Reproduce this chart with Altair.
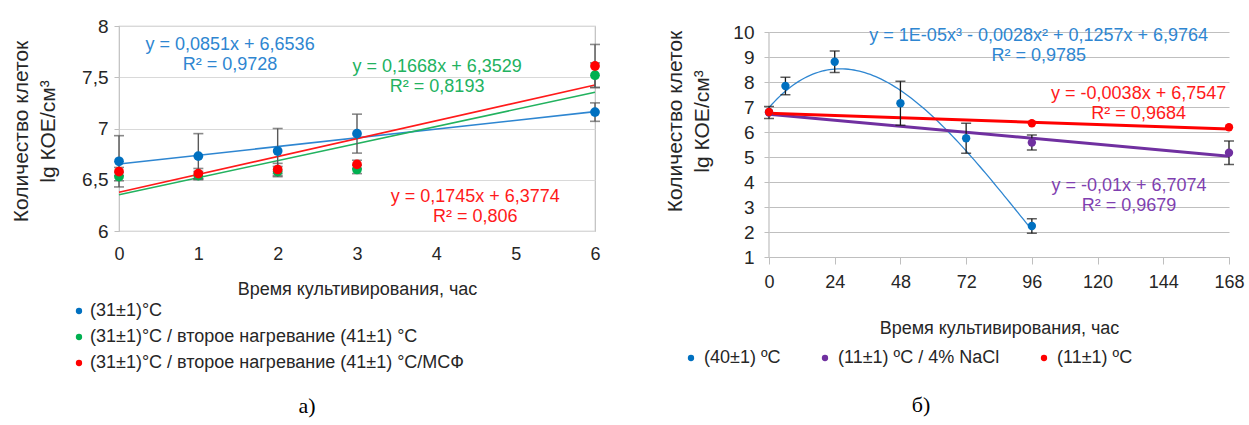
import altair as alt
import numpy as np
import pandas as pd

FONT = "Liberation Sans"
GRID = "#D9D9D9"
AXIS = "#BFBFBF"
TEXT = "#262626"

# ---------- panel а): growth over 6 h ----------
hours_a = [0, 1, 2, 3, 6]
series_a = [
    "(31±1)°C",
    "(31±1)°C / второе нагревание (41±1) °C",
    "(31±1)°C / второе нагревание (41±1) °C/МСФ",
]
dot_colors_a = ["#0070C0", "#00B050", "#FF0000"]
text_colors_a = ["#2E86D1", "#22B25F", "#FF1A1A"]
values_a = [
    [6.68, 6.73, 6.78, 6.95, 7.16],
    [6.53, 6.54, 6.58, 6.60, 7.52],
    [6.58, 6.56, 6.60, 6.65, 7.61],
]
errors_a = [
    [0.25, 0.22, 0.22, 0.19, 0.09],
    [0.04, 0.04, 0.05, 0.04, 0.12],
    [0.04, 0.05, 0.06, 0.04, 0.21],
]
slope_a = [0.0851, 0.1668, 0.1745]
icpt_a = [6.6536, 6.3529, 6.3774]
r2_a = [0.9728, 0.8193, 0.806]
label_x_a = [1.40, 4.01, 4.49]
label_y_a = [7.815, 7.60, 6.33]

# ---------- panel б): survival over 168 h ----------
series_b = ["(40±1) ºC", "(11±1) ºC / 4% NaCl", "(11±1) ºC"]
dot_colors_b = ["#0070C0", "#7030A0", "#FF0000"]
text_colors_b = ["#2E86D1", "#7F3FB0", "#FF1A1A"]
hours_b = [
    [0, 6, 24, 48, 72, 96],
    [0, 96, 168],
    [0, 96, 168],
]
values_b = [
    [6.80, 7.84, 8.81, 7.15, 5.75, 2.24],
    [6.78, 5.58, 5.17],
    [6.80, 6.35, 6.19],
]
errors_b = [
    [0, 0.35, 0.43, 0.88, 0.60, 0.29],
    [0.24, 0.30, 0.47],
    [0, 0, 0],
]
cubic_b = [1e-05, -0.0028, 0.1257, 6.9764]   # coefficients of x³, x², x, 1
slope_b = [-0.01, -0.0038]
icpt_b = [6.7074, 6.7547]
r2_b = [0.9785, 0.9679, 0.9684]
label_x_b = [98.5, 131.5, 135.0]
label_y_b = [9.84, 3.84, 7.52]


def num(v):
    """Excel-style number with decimal comma."""
    if v != 0 and abs(v) < 1e-3:
        return f"{v:.0E}"
    s = f"{v:.4f}".rstrip("0").rstrip(".")
    return s.replace(".", ",")


def term(v, suffix, first=False):
    if first:
        return f"{num(v)}{suffix}"
    sign = "-" if v < 0 else "+"
    return f"  {sign} {num(abs(v))}{suffix}"


def lin_label(k, b, r2):
    return f"y = {num(k)}x{term(b, '')}\nR² = {num(r2)}"


base_cfg = dict(labelFont=FONT, titleFont=FONT, labelColor=TEXT, titleColor=TEXT,
                titleFontWeight="normal", labelOverlap=False, labelFlush=False)

# ---------- build panel а) ----------
pts_a = pd.DataFrame([
    {"series": s, "x": h, "y": v, "lo": v - e, "hi": v + e}
    for s, vals, errs in zip(series_a, values_a, errors_a)
    for h, v, e in zip(hours_a, vals, errs)
])

xs_a = alt.Scale(domain=[0, 6], nice=False)
ys_a = alt.Scale(domain=[6, 8], nice=False, zero=False)

x_axis_a = alt.Axis(values=list(range(7)), format="d", title="Время культивирования, час",
                    labelFontSize=18, titleFontSize=18, labelPadding=14, titlePadding=17,
                    ticks=False, domain=False, grid=False, **base_cfg)
y_axis_a = alt.Axis(values=[6, 6.5, 7, 7.5, 8], title=["Количество клеток", "lg КОЕ/см³"],
                    labelExpr="replace(toString(datum.value), '.', ',')",
                    labelFontSize=19, titleFontSize=21, labelPadding=6, tickSize=5,
                    tickColor=AXIS, domain=False, gridColor=GRID,
                    titleX=-98, titleY=105, titleAngle=-90, titleBaseline="middle",
                    titleLineHeight=27, titleAlign="center", **base_cfg)

X_A = alt.X("x:Q", scale=xs_a, axis=x_axis_a)


def y_a(field):
    return alt.Y(f"{field}:Q", scale=ys_a, axis=y_axis_a)


layers_a = []
for s, k, b, c in zip(series_a, slope_a, icpt_a, text_colors_a):
    line_df = pd.DataFrame({"x": [0, 6], "y": [b, b + 6 * k]})
    layers_a.append(alt.Chart(line_df).mark_line(color=c, strokeWidth=1.6).encode(
        x=X_A, y=y_a("y")))

err_a = pts_a[pts_a["hi"] > pts_a["lo"]]
layers_a.append(alt.Chart(err_a).mark_rule(color="#595959", strokeWidth=1.4).encode(
    x=X_A, y=y_a("lo"), y2="hi:Q"))
for fld in ["lo", "hi"]:
    layers_a.append(alt.Chart(err_a).mark_tick(color="#595959", thickness=1.6, size=10,
                                               orient="horizontal").encode(x=X_A, y=y_a(fld)))
layers_a.append(alt.Chart(pts_a).mark_circle(size=95, opacity=1).encode(
    x=X_A, y=y_a("y"),
    color=alt.Color("series:N", scale=alt.Scale(domain=series_a, range=dot_colors_a),
                    sort=series_a,
                    legend=alt.Legend(orient="none", legendX=-49, legendY=276, title=None,
                                      direction="vertical", symbolType="circle",
                                      symbolSize=40, symbolStrokeWidth=0,
                                      labelFont=FONT, labelFontSize=18, labelColor=TEXT,
                                      rowPadding=8, labelOffset=2, labelLimit=600))))

for s, k, b, r2, c, lx, ly in zip(series_a, slope_a, icpt_a, r2_a, text_colors_a, label_x_a, label_y_a):
    lab = pd.DataFrame({"x": [lx], "y": [ly], "t": [lin_label(k, b, r2)]})
    layers_a.append(alt.Chart(lab).mark_text(font=FONT, fontSize=18, color=c, align="center",
                                             baseline="middle", lineBreak="\n",
                                             lineHeight=20).encode(x=X_A, y=y_a("y"), text="t:N"))

panel_a = alt.layer(*layers_a).properties(
    width=476, height=205,
    view=alt.ViewBackground(stroke=AXIS, strokeWidth=1.2),
    title=alt.TitleParams("а)", orient="bottom", anchor="middle", frame="bounds",
                          font="Liberation Serif", fontSize=22, fontWeight="normal",
                          color="#000000", offset=24, dx=2),
)

# ---------- build panel б) ----------
pts_b = pd.DataFrame([
    {"series": s, "x": h, "y": v, "lo": v - e, "hi": v + e}
    for s, hrs, vals, errs in zip(series_b, hours_b, values_b, errors_b)
    for h, v, e in zip(hrs, vals, errs)
])

xs_b = alt.Scale(domain=[0, 168], nice=False)
ys_b = alt.Scale(domain=[1, 10.24], nice=False, zero=False)

x_axis_b = alt.Axis(values=list(range(0, 169, 24)), title="Время культивирования, час",
                    labelFontSize=18, titleFontSize=18, labelPadding=9, titlePadding=28,
                    tickSize=7, tickColor=AXIS, domainColor=AXIS, domainWidth=1.2,
                    grid=False, **base_cfg)
y_axis_b = alt.Axis(values=list(range(1, 11)), title=["Количество клеток", "lg КОЕ/см³"],
                    labelFontSize=19, titleFontSize=21, labelPadding=10, tickSize=5,
                    tickColor=AXIS, domain=False, gridColor=AXIS,
                    titleX=-94, titleY=95, titleAngle=-90, titleBaseline="middle",
                    titleLineHeight=27, titleAlign="center", **base_cfg)

X_B = alt.X("x:Q", scale=xs_b, axis=x_axis_b)


def y_b(field):
    return alt.Y(f"{field}:Q", scale=ys_b, axis=y_axis_b)


layers_b = []
axis_line = pd.DataFrame({"x": [0], "y": [1], "y2": [10]})
layers_b.append(alt.Chart(axis_line).mark_rule(color=AXIS, strokeWidth=1.2).encode(
    x=X_B, y=y_b("y"), y2="y2:Q"))

cx = np.arange(0, 96.5, 1.0)
cy = sum(c * cx ** p for c, p in zip(cubic_b, [3, 2, 1, 0]))
layers_b.append(alt.Chart(pd.DataFrame({"x": cx, "y": cy})).mark_line(
    color=text_colors_b[0], strokeWidth=1.3).encode(x=X_B, y=y_b("y")))
for k, b, c in zip(slope_b, icpt_b, dot_colors_b[1:]):
    line_df = pd.DataFrame({"x": [0, 168], "y": [b, b + 168 * k]})
    layers_b.append(alt.Chart(line_df).mark_line(color=c, strokeWidth=3).encode(
        x=X_B, y=y_b("y")))

err_b = pts_b[pts_b["hi"] > pts_b["lo"]]
layers_b.append(alt.Chart(err_b).mark_rule(color="#1A1A1A", strokeWidth=1.3).encode(
    x=X_B, y=y_b("lo"), y2="hi:Q"))
for fld in ["lo", "hi"]:
    layers_b.append(alt.Chart(err_b).mark_tick(color="#1A1A1A", thickness=1.5, size=10,
                                               orient="horizontal").encode(x=X_B, y=y_b(fld)))
layers_b.append(alt.Chart(pts_b).mark_circle(size=70, opacity=1).encode(
    x=X_B, y=y_b("y"),
    order=alt.Order("order:Q"),
    color=alt.Color("series:N", scale=alt.Scale(domain=series_b, range=dot_colors_b),
                    sort=series_b,
                    legend=alt.Legend(orient="none", legendX=-87, legendY=323, title=None,
                                      direction="horizontal", columns=3, symbolType="circle",
                                      symbolSize=40, symbolStrokeWidth=0,
                                      labelFont=FONT, labelFontSize=18, labelColor=TEXT,
                                      columnPadding=35, labelOffset=4, labelLimit=400))
).transform_calculate(order="datum.series == '(11±1) ºC' ? 2 : (datum.series == '(40±1) ºC' ? 1 : 0)"))

cubic_label = ("y = " + term(cubic_b[0], "x³", first=True) + term(cubic_b[1], "x²")
               + term(cubic_b[2], "x") + term(cubic_b[3], "") + f"\nR² = {num(r2_b[0])}")
cubic_label = cubic_label.replace("  ", " ", 2)
labels_b = [cubic_label,
            lin_label(slope_b[0], icpt_b[0], r2_b[1]),
            lin_label(slope_b[1], icpt_b[1], r2_b[2])]
for t, c, lx, ly in zip(labels_b, text_colors_b, label_x_b, label_y_b):
    lab = pd.DataFrame({"x": [lx], "y": [ly], "t": [t]})
    layers_b.append(alt.Chart(lab).mark_text(font=FONT, fontSize=18, color=c, align="center",
                                             baseline="middle", lineBreak="\n",
                                             lineHeight=20).encode(x=X_B, y=y_b("y"), text="t:N"))

panel_b = alt.layer(*layers_b).properties(
    width=460, height=231,
    title=alt.TitleParams("б)", orient="bottom", anchor="middle", frame="bounds",
                          font="Liberation Serif", fontSize=22, fontWeight="normal",
                          color="#000000", offset=28, dx=-33),
)

chart = alt.hconcat(panel_a, panel_b, spacing=62).resolve_scale(color="independent").properties(
    padding={"left": 9, "top": 16, "right": 0, "bottom": 0},
    background="white",
).configure_view(strokeWidth=0).configure_axis(labelOverlap=False)

chart.save("out.html", embed_options={"renderer": "svg", "actions": False})
